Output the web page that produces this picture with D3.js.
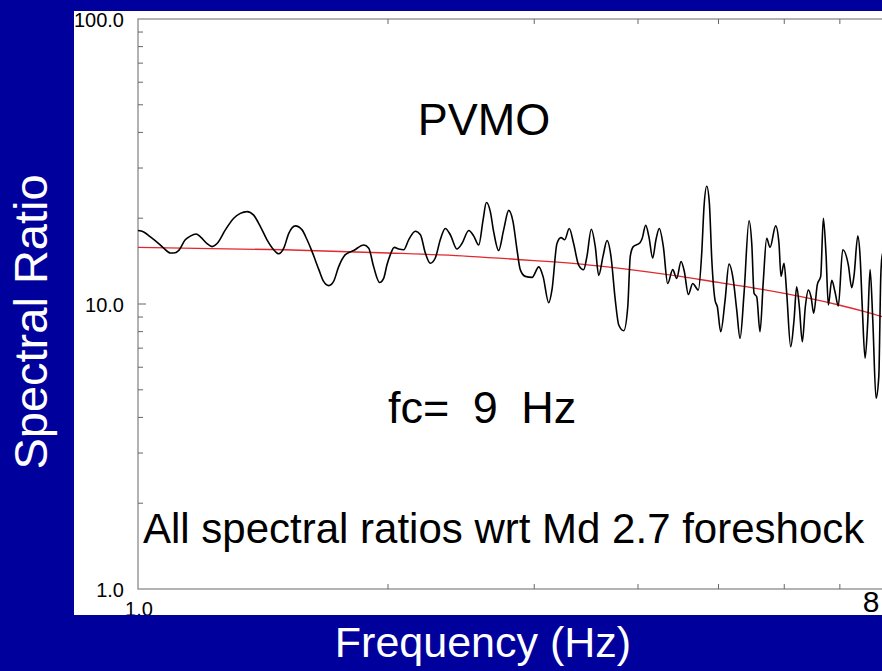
<!DOCTYPE html>
<html>
<head>
<meta charset="utf-8">
<script src="https://cdn.jsdelivr.net/npm/d3@7"></script>
<style>
  html, body { margin: 0; padding: 0; background: #00009c; overflow: hidden; }
  text { font-family: "Liberation Sans", Arial, sans-serif; }
</style>
</head>
<body>
<div id="chart"></div>
<script>
var width = 882;
var height = 671;

// observed spectral ratio (Hz, ratio)
var freq = [1.0, 1.016, 1.035, 1.059, 1.074, 1.094, 1.104, 1.119, 1.140, 1.156, 1.175, 1.189, 1.211, 1.228, 1.245, 1.274, 1.304, 1.328, 1.353, 1.378, 1.404, 1.430, 1.457, 1.477, 1.498, 1.519, 1.547, 1.576, 1.598, 1.620, 1.651, 1.673, 1.697, 1.720, 1.744, 1.777, 1.818, 1.870, 1.896, 1.922, 1.954, 1.976, 1.994,
  2.013, 2.035, 2.060, 2.089, 2.118, 2.157, 2.188, 2.218, 2.249, 2.280, 2.312, 2.344, 2.377, 2.421, 2.455, 2.502, 2.537, 2.572, 2.603, 2.627, 2.656, 2.681, 2.718, 2.756, 2.795, 2.828, 2.860, 2.886, 2.926, 2.982,
  3.038, 3.074, 3.123, 3.151, 3.195, 3.231, 3.264, 3.306, 3.346, 3.393, 3.441, 3.472, 3.514, 3.553, 3.587, 3.630, 3.671, 3.711, 3.756, 3.792, 3.845, 3.888, 3.915, 3.948,
  4.022, 4.047, 4.086, 4.123, 4.166, 4.204, 4.243, 4.291, 4.343, 4.404, 4.453, 4.507, 4.548, 4.599, 4.655, 4.728, 4.773, 4.803, 4.840, 4.875, 4.908, 4.953, 4.984,
  5.031, 5.092, 5.148, 5.210, 5.259, 5.308, 5.367, 5.442, 5.483, 5.518, 5.559, 5.610, 5.662, 5.715, 5.768, 5.859, 5.913, 5.946, 5.996,
  6.041, 6.108, 6.165, 6.210, 6.256, 6.308, 6.361, 6.414, 6.462, 6.511, 6.576, 6.638, 6.687, 6.737, 6.780, 6.845, 6.908, 6.970,
  7.056, 7.167, 7.235, 7.281, 7.357, 7.404, 7.450, 7.507, 7.563, 7.612, 7.669, 7.739, 7.798, 7.841, 7.869, 7.95];
var ratio = [18.1, 17.9, 17.2, 16.3, 15.7, 15.1, 15.1, 15.4, 16.8, 17.3, 17.6, 17.2, 16.3, 15.9, 16.3, 18.2, 20.0, 20.8, 21.1, 20.5, 18.7, 16.8, 15.5, 15.0, 15.7, 17.7, 18.8, 18.2, 16.8, 15.3, 13.2, 12.0, 11.6, 12.0, 13.5, 14.9, 15.4, 16.1, 15.7, 13.5, 11.9, 12.3, 13.7,
  14.9, 15.8, 15.6, 15.5, 16.8, 18.0, 17.5, 15.1, 13.9, 14.5, 16.8, 18.4, 17.5, 15.6, 16.3, 18.1, 17.3, 16.1, 19.7, 22.7, 21.1, 17.9, 15.4, 18.2, 21.3, 19.5, 15.5, 13.2, 12.5, 12.4,
  13.5, 12.5, 10.1, 11.2, 16.3, 17.1, 16.8, 18.4, 16.3, 13.7, 13.2, 14.7, 18.3, 15.9, 12.6, 14.7, 16.7, 14.7, 10.3, 8.44, 8.06, 9.78, 14.7, 15.9,
  16.4, 17.0, 18.9, 17.2, 14.5, 16.8, 18.4, 15.9, 11.8, 13.2, 12.3, 14.1, 13.0, 10.8, 11.8, 11.2, 15.1, 21.9, 25.9, 22.6, 14.3, 10.3, 9.78,
  7.99, 10.3, 13.8, 12.1, 9.53, 7.58, 10.9, 19.6, 16.3, 10.9, 10.6, 7.99, 12.1, 17.0, 15.8, 18.8, 16.3, 12.5, 13.9,
  10.9, 7.08, 8.79, 11.5, 9.78, 7.37, 9.78, 11.2, 10.6, 9.28, 11.7, 12.5, 20.0, 14.9, 9.92, 12.1, 11.0, 9.84,
  15.5, 13.7, 11.4, 12.6, 17.3, 14.7, 9.66, 6.45, 8.67, 13.2, 8.79, 4.67, 5.56, 12.5, 14.7, 16.0];

// model fit, fc = 9 Hz
var fitFreq = [1, 1.5, 2, 2.5, 3, 3.5, 4, 4.5, 5, 5.5, 6, 6.5, 7, 7.5, 8];
var fitRatio = [15.8, 15.5, 15.1, 14.7, 14.2, 13.7, 13.1, 12.5, 11.9, 11.4, 10.9, 10.4, 9.9, 9.4, 8.9];

var yLabels = [1, 10, 100];
var xMinor = [2, 3, 4, 5, 6, 7, 8, 9];
var yMinor = [2, 3, 4, 5, 6, 7, 8, 9, 20, 30, 40, 50, 60, 70, 80, 90];

var x = d3.scaleLog().domain([1, 10]).range([138, 968.5]);
var y = d3.scaleLog().domain([1, 100]).range([589, 19]);

var svg = d3.select("#chart").append("svg")
    .attr("width", width)
    .attr("height", height);

svg.append("rect")
    .attr("width", width).attr("height", height)
    .attr("fill", "#00009c");

svg.append("defs").append("clipPath").attr("id", "panel")
  .append("rect")
    .attr("x", 74).attr("y", 11)
    .attr("width", 830).attr("height", 604);

var panel = svg.append("g").attr("clip-path", "url(#panel)");

panel.append("rect")
    .attr("x", 74).attr("y", 11)
    .attr("width", 830).attr("height", 604)
    .attr("fill", "#fff");

// frame
panel.append("rect")
    .attr("x", x(1)).attr("y", y(100))
    .attr("width", x(10) - x(1)).attr("height", y(1) - y(100))
    .attr("fill", "none")
    .attr("stroke", "#8a8a8a")
    .attr("stroke-width", 1.3);

// inward ticks
var tickG = panel.append("g").attr("stroke", "#666").attr("stroke-width", 1);
tickG.selectAll(".yt").data(yMinor.concat([10])).join("line")
    .attr("x1", x(1)).attr("x2", d => x(1) + (d === 10 ? 8 : 5))
    .attr("y1", d => y(d)).attr("y2", d => y(d));
tickG.selectAll(".xt").data(xMinor).join("line")
    .attr("x1", d => x(d)).attr("x2", d => x(d))
    .attr("y1", y(100)).attr("y2", y(100) + 5);
tickG.selectAll(".xb").data(xMinor).join("line")
    .attr("x1", d => x(d)).attr("x2", d => x(d))
    .attr("y1", y(1)).attr("y2", y(1) - 5);

var fmt = d3.format(".1f");

panel.selectAll(".ylab").data(yLabels).join("text")
    .attr("x", 124)
    .attr("y", d => y(d) + 8)
    .attr("text-anchor", "end")
    .attr("font-size", 20)
    .attr("fill", "#000")
    .text(fmt);

panel.append("text")
    .attr("x", x(1) + 1)
    .attr("y", y(1) + 27)
    .attr("text-anchor", "middle")
    .attr("font-size", 20)
    .text(fmt(1));

panel.append("text")
    .attr("x", x(8) - 17)
    .attr("y", 612)
    .attr("text-anchor", "middle")
    .attr("font-size", 30)
    .text("8");

var line = d3.line()
    .curve(d3.curveMonotoneX)
    .x(d => x(d[0]))
    .y(d => y(d[1]));

panel.append("path")
    .datum(fitFreq.map((f, i) => [f, fitRatio[i]]))
    .attr("fill", "none")
    .attr("stroke", "#e0282e")
    .attr("stroke-width", 1.3)
    .attr("d", line);

panel.append("path")
    .datum(freq.map((f, i) => [f, ratio[i]]))
    .attr("fill", "none")
    .attr("stroke", "#000")
    .attr("stroke-width", 1.6)
    .attr("stroke-linejoin", "round")
    .attr("d", line);

panel.append("text")
    .attr("x", 484).attr("y", 135)
    .attr("text-anchor", "middle")
    .attr("font-size", 45)
    .text("PVMO");

panel.append("text")
    .attr("x", 388).attr("y", 423)
    .attr("font-size", 45)
    .attr("word-spacing", 11)
    .text("fc= 9 Hz");

panel.append("text")
    .attr("x", 143).attr("y", 543)
    .attr("font-size", 42)
    .text("All spectral ratios wrt Md 2.7 foreshock");

// axis titles on the blue background
svg.append("text")
    .attr("transform", "translate(47,322) rotate(-90)")
    .attr("text-anchor", "middle")
    .attr("font-size", 47)
    .attr("fill", "#fff")
    .text("Spectral Ratio");

svg.append("text")
    .attr("x", 483).attr("y", 657)
    .attr("text-anchor", "middle")
    .attr("font-size", 43)
    .attr("fill", "#fff")
    .text("Frequency (Hz)");
</script>
</body>
</html>
